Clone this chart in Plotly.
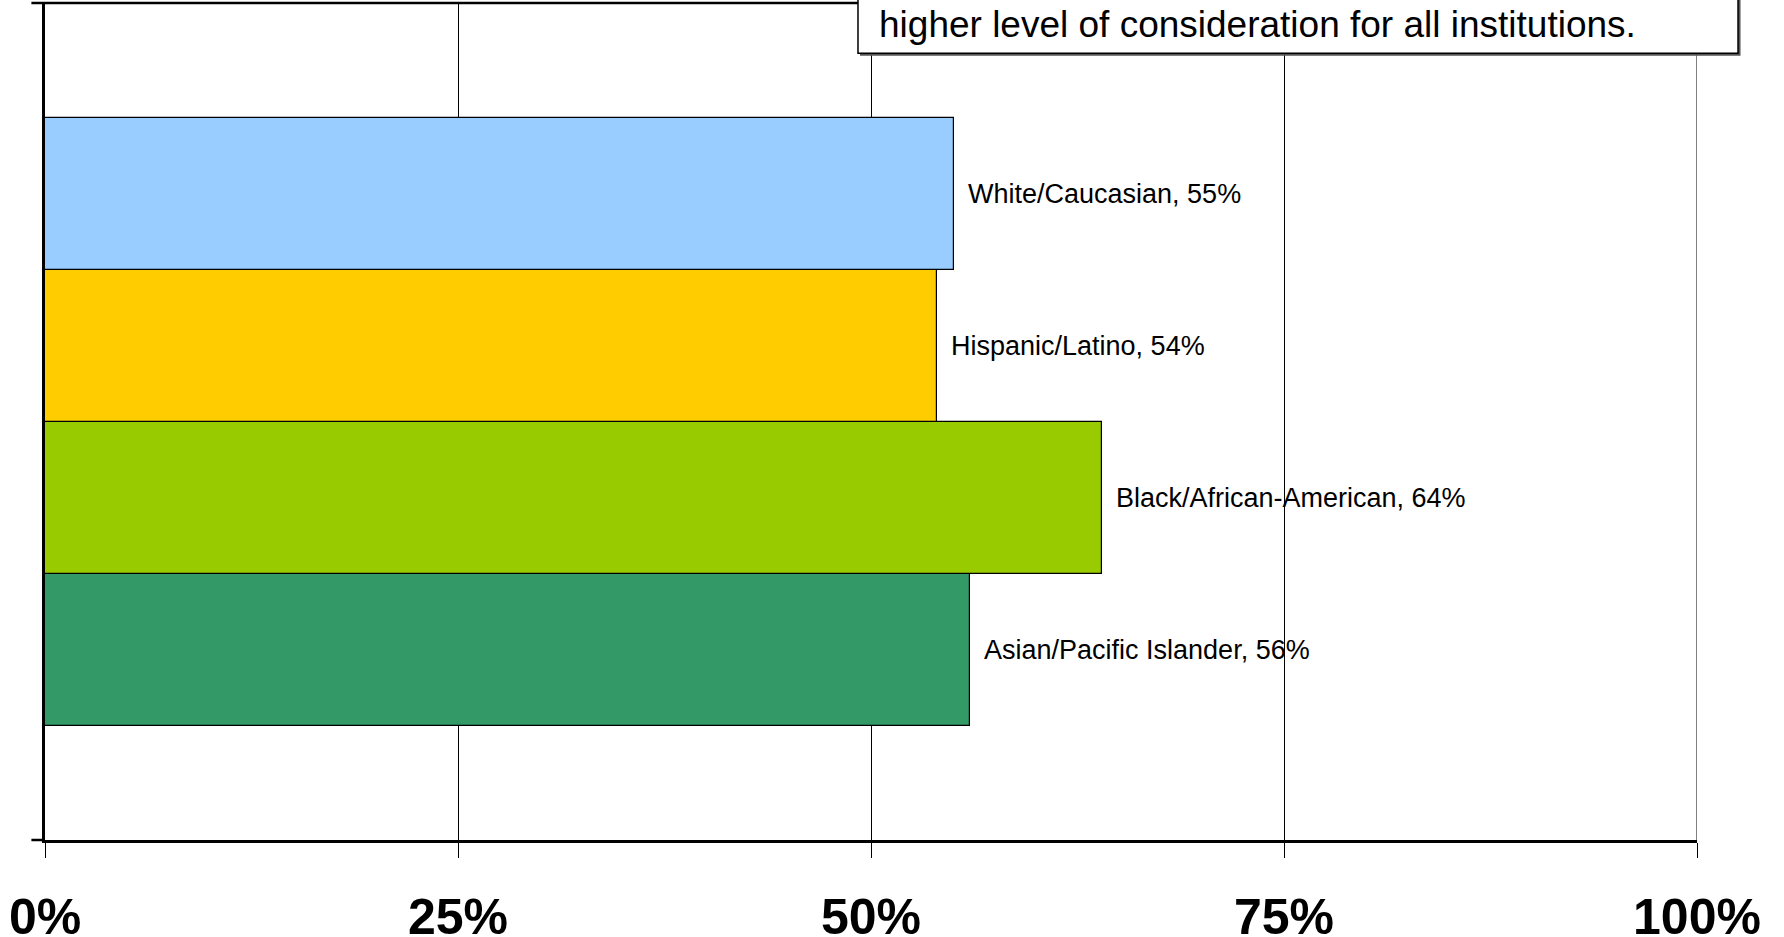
import plotly.graph_objects as go

# Data (bottom to top)
groups = ["Asian/Pacific Islander", "Black/African-American", "Hispanic/Latino", "White/Caucasian"]
values = [56, 64, 54, 55]
colors = ["#339966", "#99CC00", "#FFCC00", "#99CCFF"]
x_tickvals = [0, 25, 50, 75, 100]
x_ticktext = ["0%", "25%", "50%", "75%", "100%"]
note_text = "higher level of consideration for all institutions."

FONT = "Liberation Sans, Arial, sans-serif"

fig = go.Figure()
fig.add_trace(go.Bar(
    y=groups, x=values, orientation="h",
    marker=dict(color=colors, line=dict(color="black", width=1.2)),
    hoverinfo="skip", showlegend=False,
))

annotations = []
for g, v in zip(groups, values):
    annotations.append(dict(
        x=v, y=g, xref="x", yref="y", text=f"{g}, {v}%", showarrow=False,
        xanchor="left", yanchor="middle", xshift=12,
        font=dict(family=FONT, size=27, color="black"),
    ))

# Text box (top right, partially cut off by the top edge)
annotations.append(dict(
    x=(877 - 45.5) / 1651, y=1 - (24.5 - 3.4) / 836.3, xref="paper", yref="paper",
    text=note_text, showarrow=False, xanchor="left", yanchor="middle",
    font=dict(family=FONT, size=37, color="black"),
))

left_ext = (31.9 - 45.5) / 1651
shapes = [
    # box shadow
    dict(type="rect", xref="paper", yref="paper",
         x0=(860 - 45.5) / 1651, x1=(1740 - 45.5) / 1651,
         y0=1 - (56 - 3.4) / 836.3, y1=1.2,
         fillcolor="#555555", line=dict(width=0), layer="above"),
    dict(type="rect", xref="paper", yref="paper",
         x0=(858 - 45.5) / 1651, x1=(1737.5 - 45.5) / 1651,
         y0=1 - (53.5 - 3.4) / 836.3, y1=1.2,
         fillcolor="white", line=dict(color="black", width=1.5), layer="above"),
    # top border line with tick extension
    dict(type="line", xref="paper", yref="paper", x0=left_ext, x1=1, y0=1, y1=1,
         line=dict(color="black", width=2.5), layer="below"),
    # bottom tick extension
    dict(type="line", xref="paper", yref="paper", x0=left_ext, x1=0, y0=0, y1=0,
         line=dict(color="black", width=2.5)),
    # gridline at the right edge (100%)
    dict(type="line", xref="x", yref="paper", x0=x_tickvals[-1], x1=x_tickvals[-1], y0=0, y1=1,
         line=dict(color="black", width=1), layer="below"),
]

fig.update_layout(
    width=1784, height=937,
    margin=dict(l=45, r=87, t=3, b=97, autoexpand=False),
    paper_bgcolor="white", plot_bgcolor="white",
    bargap=0,
    annotations=annotations,
    shapes=shapes,
    font=dict(family=FONT, color="black"),
    xaxis=dict(
        range=[0, 100], tickvals=x_tickvals, ticktext=x_ticktext,
        showgrid=True, gridcolor="black", gridwidth=1,
        showline=True, linecolor="black", linewidth=2.5,
        ticks="outside", ticklen=15, tickcolor="black", tickwidth=1,
        tickfont=dict(family=FONT, size=50, color="black", weight="bold"),
        ticklabelstandoff=16, zeroline=False, automargin=False,
    ),
    yaxis=dict(
        type="category", categoryorder="array", categoryarray=groups,
        range=[-1.25, 4.26], showticklabels=False, showgrid=False,
        showline=True, linecolor="black", linewidth=2.5, ticks="", zeroline=False,
        automargin=False,
    ),
)

fig.write_html(
    "out.html",
    config={"displayModeBar": False},
    post_script="document.body.style.margin='0px';document.body.style.overflow='hidden';",
)
